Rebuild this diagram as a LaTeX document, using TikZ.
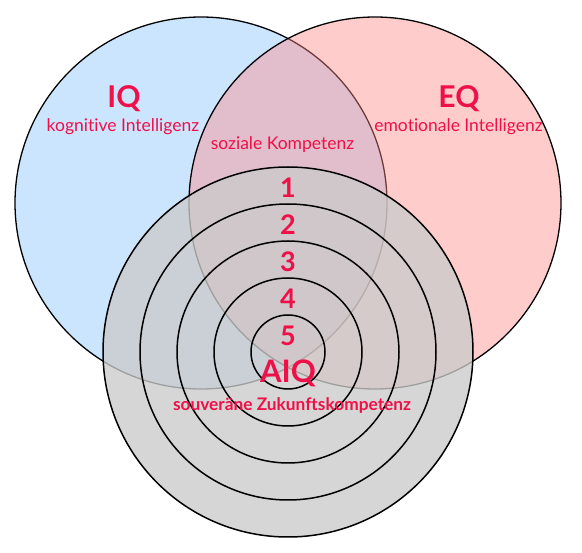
\documentclass[tikz,border=0pt]{standalone}
\usepackage{fontspec}
\setmainfont{Lato}[Ligatures=NoCommon]
\definecolor{iqblue}{RGB}{204,229,255}
\definecolor{eqpink}{RGB}{255,137,137}
\definecolor{aigray}{RGB}{203,203,203}
\definecolor{labelred}{RGB}{240,16,72}
\tikzset{
  venn/.style={circle, draw=black, line width=1.3pt, inner sep=0pt, minimum size=#1},
  ringline/.style={circle, draw=black, line width=1.5pt, inner sep=0pt, minimum size=#1},
  bigtitle/.style={text=labelred, font=\bfseries\fontsize{30}{32}\selectfont, inner sep=0pt},
  subtitle/.style={text=labelred, font=\fontsize{17.5}{19}\selectfont, inner sep=0pt},
  numlabel/.style={text=labelred, font=\bfseries\fontsize{27}{29}\selectfont, inner sep=0pt},
}
\begin{document}
\begin{tikzpicture}[x=1pt,y=-1pt]
\useasboundingbox (0,0) rectangle (582,553);
% Venn circles
\node[venn=372pt, fill=iqblue] (blue) at (201,203) {};
\node[venn=372pt, fill=eqpink, fill opacity=0.43] (pink) at (375,203) {};
% AIQ target
\node[ringline=370pt, fill=aigray, fill opacity=0.78] (ring1) at (288,352) {};
\node[ringline=296pt] (ring2) at (288,352) {};
\node[ringline=222pt] (ring3) at (288,352) {};
\node[ringline=148pt] (ring4) at (288,352) {};
\node[ringline=74pt] (ring5) at (288,352) {};
% labels
\node[bigtitle] (iq) at (124,99) {IQ};
\node[subtitle] (iqsub) at (123,127) {kognitive Intelligenz};
\node[bigtitle] (eq) at (459,99) {EQ};
\node[subtitle] (eqsub) at (458.5,127) {emotionale Intelligenz};
\node[subtitle] (soz) at (282.5,145) {soziale Kompetenz};
\node[numlabel] (n1) at (288,188) {1};
\node[numlabel] (n2) at (288,225) {2};
\node[numlabel] (n3) at (288,262) {3};
\node[numlabel] (n4) at (288,299) {4};
\node[numlabel] (n5) at (288,336) {5};
\node[bigtitle, font=\bfseries\fontsize{31}{33}\selectfont] (aiq) at (288,373) {AIQ};
\node[text=labelred, font=\bfseries\fontsize{17.3}{19}\selectfont, inner sep=0pt] (aiqsub) at (292,406) {souveräne Zukunftskompetenz};
\end{tikzpicture}
\end{document}
